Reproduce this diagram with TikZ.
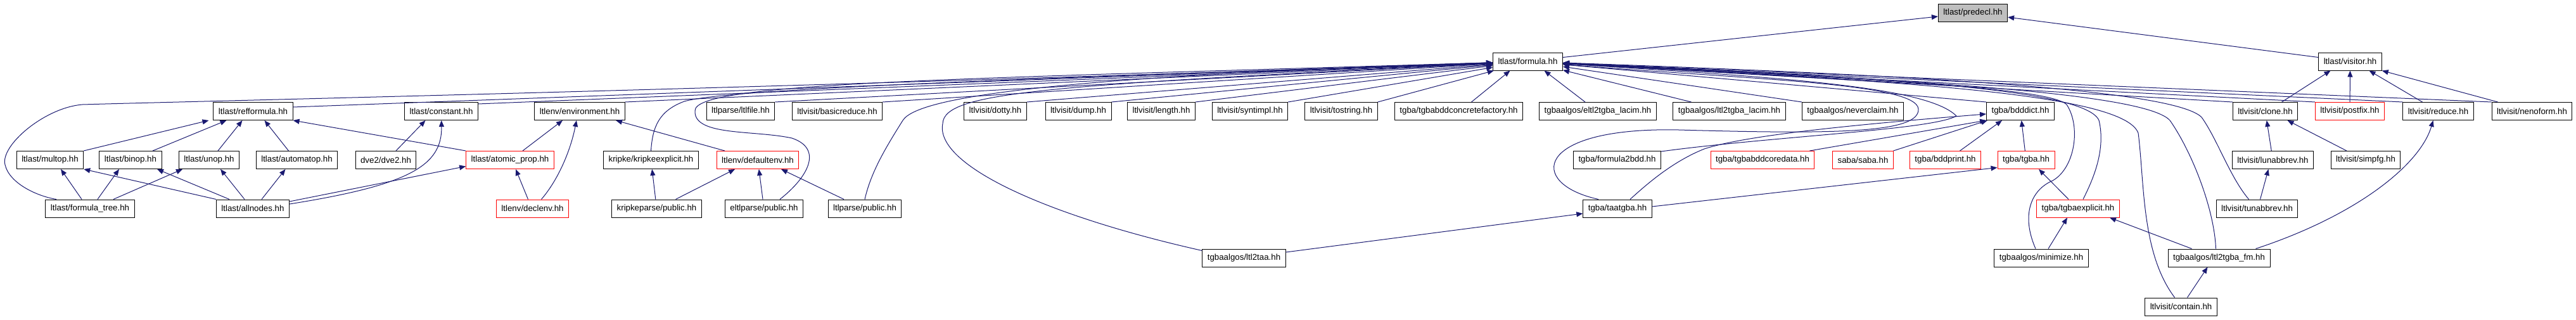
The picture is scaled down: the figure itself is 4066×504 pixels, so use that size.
\documentclass[tikz,border=0pt]{standalone}
\usepackage{fontspec}
\setmainfont{Liberation Sans}
\usetikzlibrary{arrows.meta}
\definecolor{edgeblue}{HTML}{191970}
\definecolor{curgray}{HTML}{BFBFBF}
\newcommand{\filefont}{\fontsize{13.3}{15}\selectfont}

\begin{document}
\begin{tikzpicture}[
    x=1pt, y=-1pt,
    file/.style={rectangle, draw, line width=1pt, fill=white, font=\filefont, inner xsep=8pt, inner ysep=0pt, minimum height=28pt},
    badfile/.style={file, draw=red},
    curfile/.style={file, fill=curgray},
    dep/.style={{Triangle[length=10pt,width=8pt]}-, draw=edgeblue, line width=1pt}
]
\useasboundingbox (0,0) rectangle (4066,504);

% top rows
\node[curfile] (predecl) at (3114,20) {ltlast/predecl.hh};
\node[file] (formula) at (2411.5,97) {ltlast/formula.hh};
\node[file] (visitor) at (3709.5,97) {ltlast/visitor.hh};

% row 3
\node[file] (refformula) at (399.5,175.5) {ltlast/refformula.hh};
\node[file] (constant) at (696.5,175.5) {ltlast/constant.hh};
\node[file] (environment) at (915,175.5) {ltlenv/environment.hh};
\node[file] (ltlfile) at (1169,175.5) {ltlparse/ltlfile.hh};
\node[file] (basicreduce) at (1321.5,175.5) {ltlvisit/basicreduce.hh};
\node[file] (dotty) at (1571,175.5) {ltlvisit/dotty.hh};
\node[file] (dump) at (1702,175.5) {ltlvisit/dump.hh};
\node[file] (length) at (1833,175.5) {ltlvisit/length.hh};
\node[file] (syntimpl) at (1973,175.5) {ltlvisit/syntimpl.hh};
\node[file] (tostring) at (2117,175.5) {ltlvisit/tostring.hh};
\node[file] (concretefactory) at (2302.5,175.5) {tgba/tgbabddconcretefactory.hh};
\node[file] (eltllacim) at (2522,175.5) {tgbaalgos/eltl2tgba\_lacim.hh};
\node[file] (ltllacim) at (2729.5,175.5) {tgbaalgos/ltl2tgba\_lacim.hh};
\node[file] (neverclaim) at (2924.5,175.5) {tgbaalgos/neverclaim.hh};
\node[file] (bdddict) at (3189,175.5) {tgba/bdddict.hh};
\node[file] (clone) at (3575.5,175.5) {ltlvisit/clone.hh};
\node[badfile] (postfix) at (3709,175.5) {ltlvisit/postfix.hh};
\node[file] (reduce) at (3848.5,175.5) {ltlvisit/reduce.hh};
\node[file] (nenoform) at (3996.5,175.5) {ltlvisit/nenoform.hh};

% row 4
\node[file] (multop) at (79,252.5) {ltlast/multop.hh};
\node[file] (binop) at (206,252.5) {ltlast/binop.hh};
\node[file] (unop) at (330,252.5) {ltlast/unop.hh};
\node[file] (automatop) at (468.5,252.5) {ltlast/automatop.hh};
\node[file] (dvetwo) at (609,252.5) {dve2/dve2.hh};
\node[badfile] (atomicprop) at (805,252.5) {ltlast/atomic\_prop.hh};
\node[file] (kripkeexplicit) at (1027.5,252.5) {kripke/kripkeexplicit.hh};
\node[badfile] (defaultenv) at (1196,252.5) {ltlenv/defaultenv.hh};
\node[file] (formulabdd) at (2552.5,252.5) {tgba/formula2bdd.hh};
\node[badfile] (coredata) at (2782,252.5) {tgba/tgbabddcoredata.hh};
\node[badfile] (saba) at (2940.5,252.5) {saba/saba.hh};
\node[badfile] (bddprint) at (3070.5,252.5) {tgba/bddprint.hh};
\node[badfile] (tgba) at (3198,252.5) {tgba/tgba.hh};
\node[file] (lunabbrev) at (3587.5,252.5) {ltlvisit/lunabbrev.hh};
\node[file] (simpfg) at (3734,252.5) {ltlvisit/simpfg.hh};

% row 5
\node[file] (formulatree) at (142,329) {ltlast/formula\_tree.hh};
\node[file] (allnodes) at (399,329) {ltlast/allnodes.hh};
\node[badfile] (declenv) at (840.5,329) {ltlenv/declenv.hh};
\node[file] (kripkeparse) at (1036.5,329) {kripkeparse/public.hh};
\node[file] (eltlparse) at (1206,329) {eltlparse/public.hh};
\node[file] (ltlparse) at (1365,329) {ltlparse/public.hh};
\node[file] (taatgba) at (2553,329) {tgba/taatgba.hh};
\node[badfile] (tgbaexplicit) at (3280,329) {tgba/tgbaexplicit.hh};
\node[file] (tunabbrev) at (3562.5,329) {ltlvisit/tunabbrev.hh};

% rows 6 and 7
\node[file] (ltltaa) at (1963.5,407) {tgbaalgos/ltl2taa.hh};
\node[file] (minimize) at (3222,407) {tgbaalgos/minimize.hh};
\node[file] (ltlfm) at (3502.5,407) {tgbaalgos/ltl2tgba\_fm.hh};
\node[file] (contain) at (3442.5,484) {ltlvisit/contain.hh};

% into predecl
\draw[dep] (predecl) -- ([yshift=-8pt]formula.north east);
\draw[dep] (predecl) -- ([yshift=-8pt]visitor.north west);

% into formula, left side
\draw[dep] (formula) -- ([yshift=-8pt]refformula.north east);
\draw[dep] (formula) -- ([yshift=-3pt]constant.north east);
\draw[dep] (formula) -- (environment.north east);
\draw[dep] (formula) -- (ltlfile.north east);
\draw[dep] (formula) -- (basicreduce.north east);
\draw[dep] (formula) -- (dotty.north east);
\draw[dep] (formula) -- (dump.north east);
\draw[dep] (formula) -- (length.north east);
\draw[dep] (formula) -- (syntimpl.north east);
\draw[dep] (formula) -- (tostring.north east);
\draw[dep] ([xshift=-28pt]formula.south) -- ([xshift=20pt]concretefactory.north);
\draw[dep] ([xshift=26pt]formula.south) -- ([xshift=-20pt]eltllacim.north);
\draw[dep] (formula) .. controls (1200,140) and (300,160) .. (130,165)
    .. controls (70,170) and (0,230) .. (8,260)
    .. controls (15,290) and (60,310) .. ([xshift=-53pt]formulatree.north);
\draw[dep] (formula) .. controls (1600,125) and (1150,140) .. (1080,160)
    .. controls (1040,175) and (1030,200) .. (kripkeexplicit.north);
\draw[dep] (formula) .. controls (1500,125) and (1095,130) .. (1097,175)
    .. controls (1095,215) and (1190,205) .. (1250,218)
    .. controls (1300,235) and (1275,280) .. ([xshift=25pt]eltlparse.north);
\draw[dep] (formula) .. controls (1700,120) and (1450,150) .. (1425,190)
    .. controls (1400,230) and (1375,270) .. (ltlparse.north);
\draw[dep] (formula) .. controls (1650,135) and (1490,145) .. (1488,195)
    .. controls (1475,260) and (1650,340) .. ([yshift=-3pt]ltltaa.north west);

% into formula, right side
\draw[dep] (formula) -- ([xshift=-60pt]ltllacim.north);
\draw[dep] (formula) -- (neverclaim.north west);
\draw[dep] (formula) -- (bdddict.north west);
\draw[dep] (formula) -- (clone.north west);
\draw[dep] (formula) -- (postfix.north west);
\draw[dep] (formula) -- (reduce.north west);
\draw[dep] (formula) -- (nenoform.north west);
\draw[dep] (formula) .. controls (2750,125) and (3025,130) .. (3028,172)
    .. controls (3030,210) and (2900,212) .. (2650,205)
    .. controls (2420,200) and (2410,290) .. ([xshift=-30pt]taatgba.north);
\draw[dep] (formula) .. controls (2800,122) and (3040,135) .. (3088,183)
    .. controls (3050,205) and (2800,215) .. ([yshift=-1pt]formulabdd.north east);
\draw[dep] (formula) .. controls (2900,120) and (3290,135) .. (3313,190)
    .. controls (3325,240) and (3300,290) .. ([xshift=8pt]tgbaexplicit.north);
\draw[dep] (formula) .. controls (2900,125) and (3230,135) .. (3262,165)
    .. controls (3285,200) and (3275,265) .. (3240,285)
    .. controls (3205,300) and (3190,340) .. ([xshift=-9pt]minimize.north);
\draw[dep] (formula) .. controls (2900,125) and (3350,140) .. (3375,210)
    .. controls (3385,290) and (3380,400) .. ([xshift=-10pt]contain.north);
\draw[dep] (formula) .. controls (2900,122) and (3380,140) .. (3425,190)
    .. controls (3460,240) and (3495,330) .. ([xshift=-5pt]ltlfm.north);
\draw[dep] (formula) .. controls (3000,118) and (3430,140) .. (3475,185)
    .. controls (3500,220) and (3520,280) .. ([xshift=-13pt]tunabbrev.north);

% ltlast
\draw[dep] ([xshift=-70pt]refformula.south) -- (multop.north east);
\draw[dep] ([xshift=-42pt]refformula.south) -- ([xshift=35pt]binop.north);
\draw[dep] ([xshift=-17pt]refformula.south) -- ([xshift=14pt]unop.north);
\draw[dep] ([xshift=18pt]refformula.south) -- ([xshift=-13pt]automatop.north);
\draw[dep] (refformula.south east) -- (atomicprop.north west);
\draw[dep] ([xshift=17pt]multop.south) -- ([xshift=-13pt]formulatree.north);
\draw[dep] ([xshift=-18pt]binop.south) -- ([xshift=12pt]formulatree.north);
\draw[dep] ([xshift=-42pt]unop.south) -- ([xshift=37pt]formulatree.north);
\draw[dep] (multop.south east) -- (allnodes.north west);
\draw[dep] ([xshift=42pt]binop.south) -- ([xshift=-37pt]allnodes.north);
\draw[dep] ([xshift=18pt]unop.south) -- ([xshift=-13pt]allnodes.north);
\draw[dep] ([xshift=-18pt]automatop.south) -- ([xshift=14pt]allnodes.north);
\draw[dep] ([xshift=-25pt]constant.south) -- ([xshift=16pt]dvetwo.north);
\draw[dep] (constant) .. controls (698,262) and (645,292) .. ([yshift=7pt]allnodes.east);
\draw[dep] ([yshift=-10pt]atomicprop.west) -- ([yshift=11pt]allnodes.east);

% ltlenv and parsers
\draw[dep] ([xshift=-27pt]environment.south) -- ([xshift=20pt]atomicprop.north);
\draw[dep] ([xshift=-5pt]environment.south) .. controls (900,240) and (880,285) .. ([xshift=14pt]declenv.north);
\draw[dep] ([xshift=57pt]environment.south) -- ([xshift=-52pt]defaultenv.north);
\draw[dep] ([xshift=9pt]atomicprop.south) -- ([xshift=-7pt]declenv.north);
\draw[dep] (kripkeexplicit) -- (kripkeparse);
\draw[dep] ([xshift=-36pt]defaultenv.south) -- ([xshift=30pt]kripkeparse.north);
\draw[dep] (defaultenv) -- ([xshift=-2pt]eltlparse.north);
\draw[dep] ([xshift=37pt]defaultenv.south) -- ([xshift=-33pt]ltlparse.north);

% tgba
\draw[dep] ([yshift=-8pt]taatgba.west) -- ([yshift=9pt]ltltaa.east);
\draw[dep] (bdddict) .. controls (2950,195) and (2760,212) .. (2690,235)
    .. controls (2640,255) and (2600,290) .. ([xshift=20pt]taatgba.north);
\draw[dep] (bdddict.south west) -- ([xshift=-8pt]coredata.north east);
\draw[dep] ([xshift=2pt]bdddict.south west) -- ([xshift=48pt]saba.north);
\draw[dep] ([xshift=-29pt]bdddict.south) -- ([xshift=23pt]bddprint.north);
\draw[dep] (bdddict) -- (tgba);
\draw[dep] ([yshift=-12pt]tgba.west) -- ([yshift=3pt]taatgba.east);
\draw[dep] ([xshift=20pt]tgba.south) -- ([xshift=-15pt]tgbaexplicit.north);
\draw[dep] ([xshift=-17pt]tgbaexplicit.south) -- ([xshift=11pt]minimize.north);
\draw[dep] ([xshift=50pt]tgbaexplicit.south) -- ([xshift=-43pt]ltlfm.north);
\draw[dep] ([xshift=-18pt]ltlfm.south) -- ([xshift=10pt]contain.north);

% ltlvisit
\draw[dep] ([xshift=-8pt]reduce.south) .. controls (3820,260) and (3720,340) .. ([xshift=58pt]ltlfm.north);
\draw[dep] ([xshift=-7pt]lunabbrev.south) -- ([xshift=5pt]tunabbrev.north);
\draw[dep] (clone) -- (lunabbrev);
\draw[dep] ([xshift=35pt]clone.south) -- ([xshift=-30pt]simpfg.north);
\draw[dep] ([xshift=-31pt]visitor.south) -- ([xshift=26pt]clone.north);
\draw[dep] (visitor) -- (postfix);
\draw[dep] ([xshift=30pt]visitor.south) -- ([xshift=-25pt]reduce.north);
\draw[dep] (visitor.south east) -- ([xshift=-54pt]nenoform.north);
\end{tikzpicture}
\end{document}
